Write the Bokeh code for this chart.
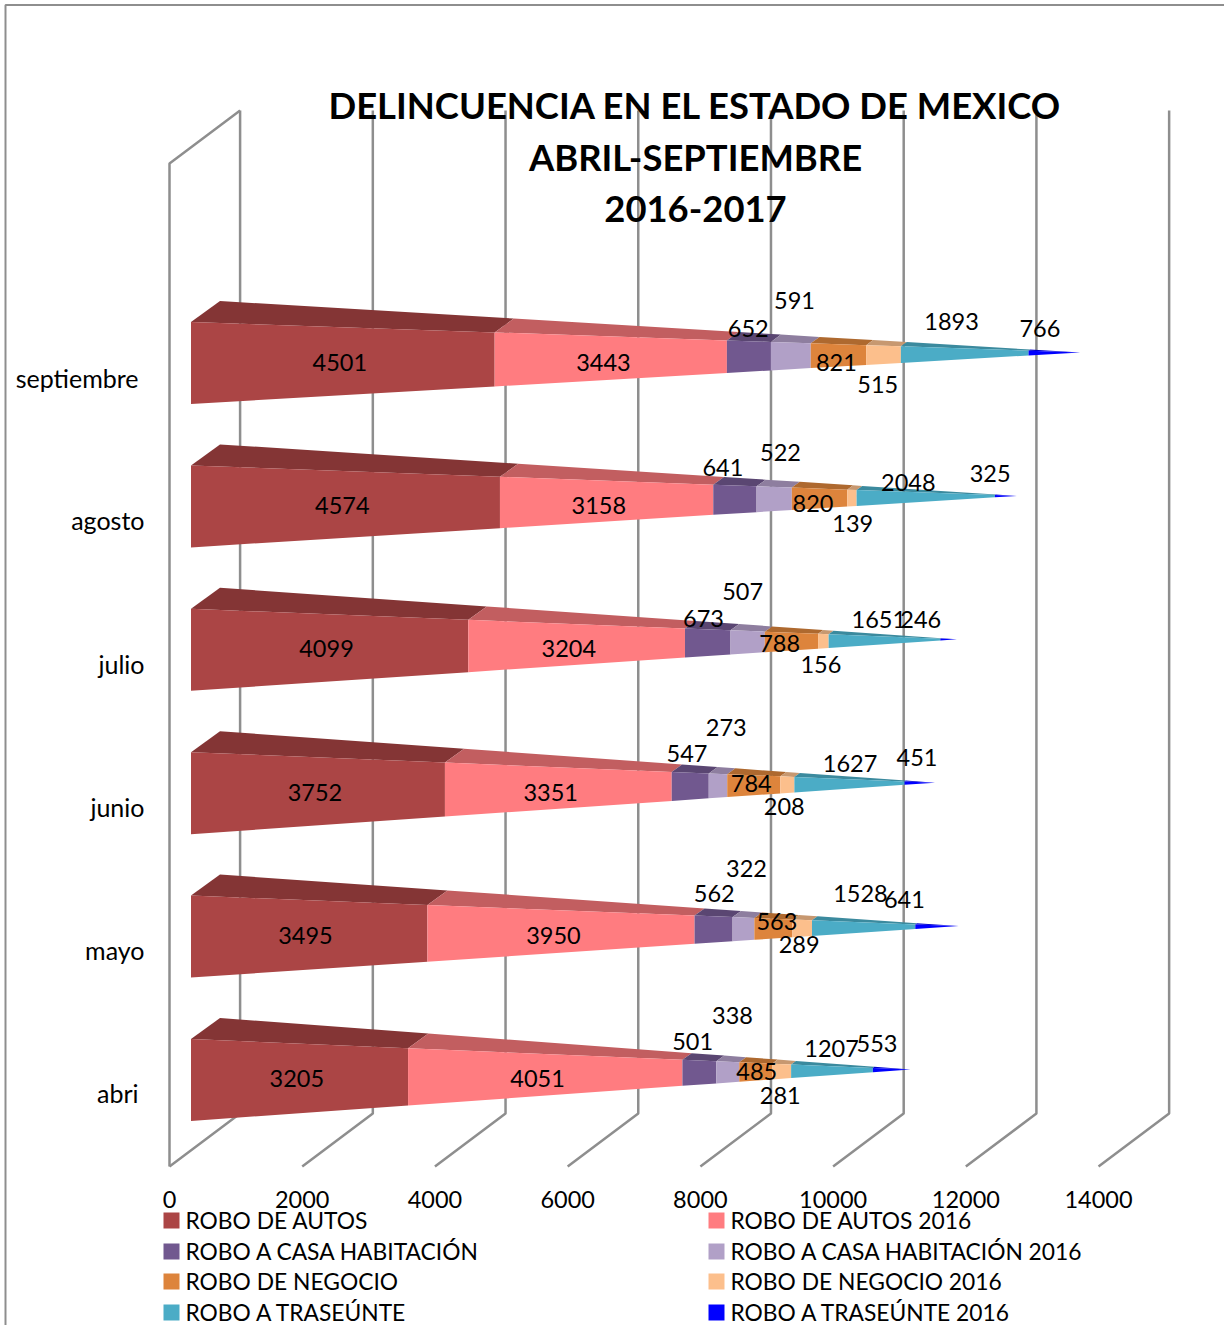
from bokeh.plotting import figure
from bokeh.models import ColumnDataSource, Range1d
from bokeh.core.properties import value
from bokeh.embed import file_html
from bokeh.resources import INLINE

# ---- data ----
months = ["abri", "mayo", "junio", "julio", "agosto", "septiembre"]
robo_autos = [3205, 3495, 3752, 4099, 4574, 4501]
robo_autos_2016 = [4051, 3950, 3351, 3204, 3158, 3443]
robo_casa = [501, 562, 547, 673, 641, 652]
robo_casa_2016 = [338, 322, 273, 507, 522, 591]
robo_negocio = [485, 563, 784, 788, 820, 821]
robo_negocio_2016 = [281, 289, 208, 156, 139, 515]
robo_traseunte = [1207, 1528, 1627, 1651, 2048, 1893]
robo_traseunte_2016 = [553, 641, 451, 246, 325, 766]
series_names = ["ROBO DE AUTOS", "ROBO DE AUTOS 2016", "ROBO A CASA HABITACIÓN",
                "ROBO A CASA HABITACIÓN 2016", "ROBO DE NEGOCIO", "ROBO DE NEGOCIO 2016",
                "ROBO A TRASEÚNTE", "ROBO A TRASEÚNTE 2016"]
axis_ticks = [0, 2000, 4000, 6000, 8000, 10000, 12000, 14000]
title_lines = ["DELINCUENCIA EN EL ESTADO DE MEXICO", "ABRIL-SEPTIEMBRE", "2016-2017"]

series = [robo_autos, robo_autos_2016, robo_casa, robo_casa_2016,
          robo_negocio, robo_negocio_2016, robo_traseunte, robo_traseunte_2016]

# ---- styles ----
front_colors = ["#AB4545", "#FF7C80", "#71588F", "#B1A0C7", "#DD843C", "#FCBF8C", "#4BACC6", "#0000FF"]
top_colors = ["#843535", "#C25E60", "#5A4672", "#8E7E9F", "#AE692F", "#C79870", "#3B8A9E", "#0000CC"]
GRID = "#8E8E8E"
FONT = "Lato"

# per-label pixel nudges, (row, series), from the middle of each segment
nudge_x = [
    [-15, -15, -11, 1, -2, -4, -2, -15],
    [-16, -15, -4, -1, 0, -6, -5, -33],
    [-15, -15, -8, 4, -6, -6, -1, -3],
    [-15, -15, -9, -9, -15, -5, -7, -28],
    [-15, -15, -17, 2, -10, -2, -19, -16],
    [-15, -15, -6, -1, -6, -9, -15, -15],
]
nudge_y = [
    [-2, -2, -39, -65, -9, 15, -32, -37],
    [-1, -1, -43, -68, -15, 8, -43, -37],
    [-1, -1, -40, -66, -10, 13, -30, -36],
    [-1, -1, -31, -58, -6, 15, -30, -30],
    [-1, -1, -39, -54, -3, 17, -24, -33],
    [-1, -1, -35, -63, -1, 21, -42, -35],
]
month_nudge_x = [-6, 0, 0, 0, 0, -6]
month_nudge_y = [12.5, 13.5, 13.5, 14, 14, 14.5]

# ---- oblique projection: values to data, pixel depths to data ----
W, H = 1224, 1325
K = 0.06636       # px per unit along the value axis
ROW = 143.4       # px per category row
X0, Y0 = 205, 1079.5


def vx(px):
    return (px - X0) / K


def uy(py):
    return (Y0 - py) / ROW


p = figure(width=W, height=H, x_range=Range1d(vx(0), vx(W)), y_range=Range1d(uy(H), uy(0)),
           output_backend="svg", toolbar_location=None, min_border=0,
           x_axis_location=None, y_axis_location=None, outline_line_color=None)
p.grid.visible = False

# frame
p.line([vx(5), vx(5), vx(W)], [uy(H), uy(4.5), uy(4.5)], line_color=GRID, line_width=2)

# walls and floor
wall_xs, wall_ys = [], []
floor_dx = 70.6 / K
y_front_low, y_back_low = uy(1166), uy(1113)
y_front_high, y_back_high = uy(163), uy(110)
for t in axis_ticks:
    x_front = t - 36 / K
    x_back = x_front + floor_dx
    wall_xs.append([x_front, x_back, x_back])
    wall_ys.append([y_front_low, y_back_low, y_back_high])
x0f = axis_ticks[0] - 36 / K
wall_xs.append([x0f + floor_dx, x0f, x0f])
wall_ys.append([y_back_high, y_front_high, y_front_low])
p.multi_line(wall_xs, wall_ys, line_color=GRID, line_width=2.5)

# cones
DEPTH_X, DEPTH_Y, HALF = 14.5 / K, 10.5 / ROW, 41 / ROW
front_xs, front_ys, front_c, top_xs, top_ys, top_c = [], [], [], [], [], []
lab_x, lab_y, lab_t, lab_dx, lab_dy = [], [], [], [], []

for i in range(len(months)):
    vals = [s[i] for s in series]
    T = sum(vals)
    v0 = 0
    for j, val in enumerate(vals):
        v1 = v0 + val
        r0, r1 = 1 - v0 / T, 1 - v1 / T
        # cone axis sits DEPTH_Y above the row; front plane is r * depth nearer
        c0, c1 = i + DEPTH_Y - DEPTH_Y * r0, i + DEPTH_Y - DEPTH_Y * r1
        fx0, fx1 = v0 - DEPTH_X * r0, v1 - DEPTH_X * r1
        bx0, bx1 = v0 + DEPTH_X * r0, v1 + DEPTH_X * r1
        y_t0, y_t1 = c0 + HALF * r0, c1 + HALF * r1
        y_b0, y_b1 = c0 - HALF * r0, c1 - HALF * r1
        by0 = i + DEPTH_Y + (DEPTH_Y + HALF) * r0
        by1 = i + DEPTH_Y + (DEPTH_Y + HALF) * r1
        front_xs.append([fx0, fx1, fx1, fx0])
        front_ys.append([y_t0, y_t1, y_b1, y_b0])
        front_c.append(front_colors[j])
        top_xs.append([bx0, bx1, fx1, fx0])
        top_ys.append([by0, by1, y_t1, y_t0])
        top_c.append(top_colors[j])
        lab_x.append((v0 + v1) / 2)
        lab_y.append(i)
        lab_t.append(str(val))
        lab_dx.append(nudge_x[i][j])
        lab_dy.append(nudge_y[i][j])
        v0 = v1

p.patches(top_xs, top_ys, fill_color=top_c, line_color=None)
p.patches(front_xs, front_ys, fill_color=front_c, line_color=None)

# data labels
p.text(x="x", y="y", text="t", x_offset="dx", y_offset="dy",
       source=ColumnDataSource(dict(x=lab_x, y=lab_y, t=lab_t, dx=lab_dx, dy=lab_dy)),
       text_font=value(FONT), text_font_size="23.5px", text_color="#000000",
       text_align="center", text_baseline="middle")

# category labels
p.text(x=[vx(144)] * len(months), y=list(range(len(months))), text=months,
       x_offset=month_nudge_x, y_offset=month_nudge_y,
       text_font=value(FONT), text_font_size="25px", text_color="#000000",
       text_align="right", text_baseline="middle")

# value axis labels
p.text(x=[t - 36 / K for t in axis_ticks], y=[uy(1198.5)] * len(axis_ticks),
       text=[str(t) for t in axis_ticks],
       text_font=value(FONT), text_font_size="23.5px", text_color="#000000",
       text_align="center", text_baseline="middle")

# legend
leg_sx, leg_tx, leg_sy, leg_ty = [], [], [], []
legend_rows = [1220, 1251, 1281, 1312]
for k, name in enumerate(series_names):
    left = k % 2 == 0
    leg_sx.append(vx(171 if left else 716))
    leg_tx.append(vx(185 if left else 730))
    leg_sy.append(uy(legend_rows[k // 2]))
    leg_ty.append(uy(legend_rows[k // 2] - 1))
p.scatter(leg_sx, leg_sy, marker="square", size=16, fill_color=front_colors, line_color=None)
p.text(x=leg_tx, y=leg_ty, text=series_names,
       text_font=value(FONT), text_font_size="22.8px", text_color="#000000",
       text_align="left", text_baseline="middle")

# title
p.text(x=[vx(695)] * 3, y=[uy(104), uy(156), uy(208)], text=title_lines,
       text_font=value(FONT), text_font_style="bold", text_font_size="36.4px", text_color="#000000",
       text_align="center", text_baseline="middle")

open("out.html", "w").write(file_html(p, INLINE))
